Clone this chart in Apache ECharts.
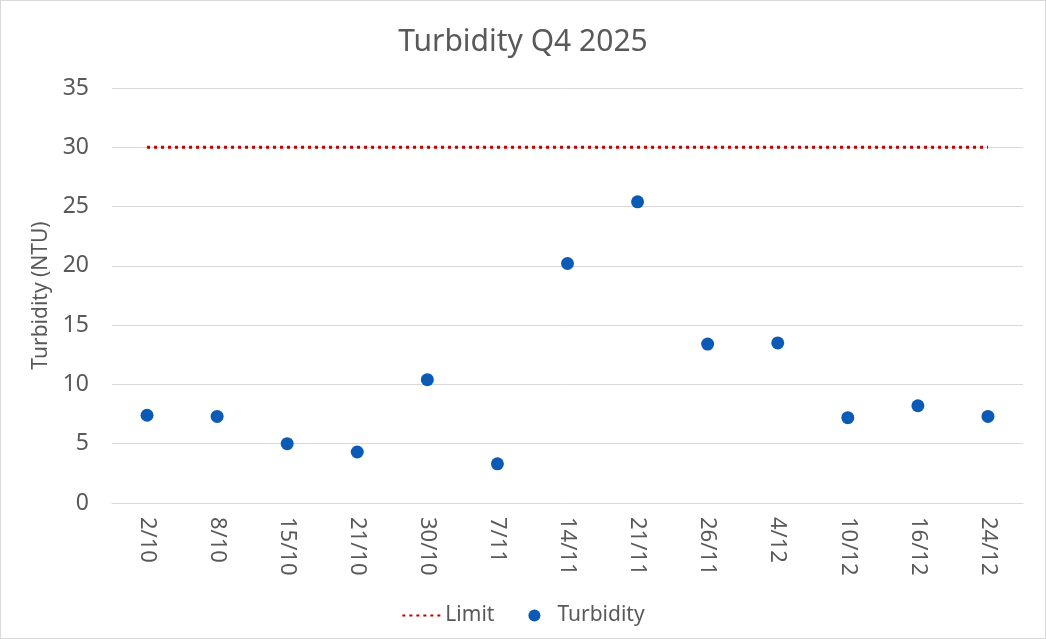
<!DOCTYPE html>
<html>
<head>
<meta charset="utf-8">
<script src="https://cdn.jsdelivr.net/npm/echarts@6/dist/echarts.min.js"></script>
<style>
  html, body { margin: 0; padding: 0; background: #fff; }
  #chart { width: 1046px; height: 639px; box-sizing: border-box; border: 1px solid #d9d9d9; }
</style>
</head>
<body>
<div id="chart"></div>
<script>
const dates = ['2/10', '8/10', '15/10', '21/10', '30/10', '7/11', '14/11', '21/11', '26/11', '4/12', '10/12', '16/12', '24/12'];
const turbidity = [7.4, 7.3, 5.0, 4.3, 10.4, 3.3, 20.2, 25.4, 13.4, 13.5, 7.2, 8.2, 7.3];
const limit = [30, 30, 30, 30, 30, 30, 30, 30, 30, 30, 30, 30, 30];

const font = 'Noto Sans, sans-serif';
const grey = '#595959';

const chart = echarts.init(document.getElementById('chart'));
chart.setOption({
  animation: false,
  textStyle: { fontFamily: font },
  title: {
    text: 'Turbidity Q4 2025',
    left: 'center',
    top: 21,
    textStyle: { fontFamily: font, fontSize: 30, fontWeight: 'normal', color: grey },
  },
  grid: {
    left: 111,
    right: 22,
    top: 87,
    bottom: 135,
  },
  legend: {
    bottom: 7,
    left: 'center',
    itemGap: 34,
    itemWidth: 40,
    itemHeight: 12,
    textStyle: { fontFamily: font, fontSize: 21, color: grey, padding: [0, 0, 0, -2] },
    data: [
      { name: 'Limit', itemStyle: { opacity: 0 } },
      { name: 'Turbidity' },
    ],
  },
  xAxis: {
    type: 'category',
    data: dates,
    boundaryGap: true,
    axisLine: { show: true, lineStyle: { color: '#d9d9d9' } },
    axisTick: { show: false },
    axisLabel: {
      rotate: -90,
      margin: 14,
      fontFamily: font,
      fontSize: 22,
      color: grey,
    },
  },
  yAxis: {
    type: 'value',
    min: 0,
    max: 35,
    interval: 5,
    name: 'Turbidity (NTU)',
    nameLocation: 'middle',
    nameGap: 58,
    nameTextStyle: { fontFamily: font, fontSize: 21, color: grey },
    axisLine: { show: false },
    axisTick: { show: false },
    axisLabel: { fontFamily: font, fontSize: 23, color: grey, margin: 23 },
    splitLine: { lineStyle: { color: '#d9d9d9', width: 1 } },
  },
  series: [
    {
      name: 'Limit',
      type: 'line',
      data: limit,
      symbol: 'none',
      lineStyle: { color: '#c00000', width: 3, type: [3, 4] },
      itemStyle: { color: '#c00000' },
    },
    {
      name: 'Turbidity',
      type: 'scatter',
      data: turbidity,
      symbolSize: 13,
      itemStyle: { color: '#0b5bb6', opacity: 1 },
    },
  ],
});
</script>
</body>
</html>
